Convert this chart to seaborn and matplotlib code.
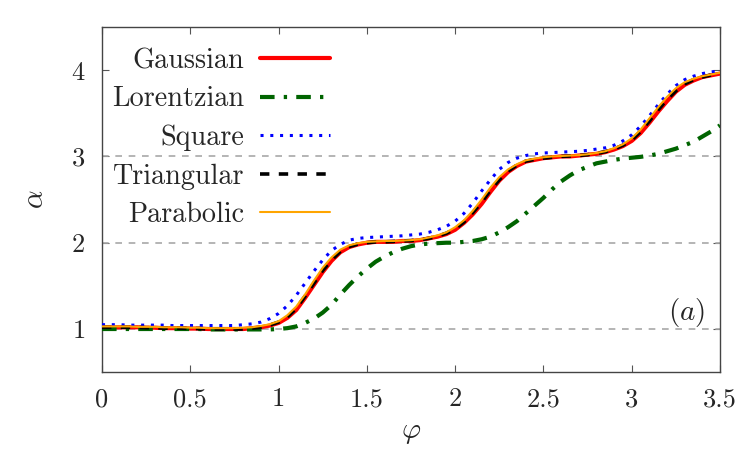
import numpy as np
import matplotlib
matplotlib.use("Agg")
import matplotlib.pyplot as plt
import seaborn as sns

# phi grid (0 .. 3.5, step 0.05)
phi = [round(0.05 * i, 2) for i in range(71)]

gaussian = [
    1.02, 1.02, 1.02, 1.02, 1.02, 1.015, 1.015, 1.01, 1.01, 1.01,
    1.005, 1.005, 1.0, 1.0, 1.0, 1.0, 1.0, 1.01, 1.02, 1.04,
    1.07, 1.13, 1.22, 1.36, 1.51, 1.66, 1.79, 1.89, 1.95, 1.98,
    2.0, 2.01, 2.01, 2.01, 2.02, 2.02, 2.03, 2.05, 2.07, 2.10,
    2.15, 2.23, 2.33, 2.45, 2.59, 2.72, 2.82, 2.89, 2.94, 2.96,
    2.98, 2.99, 3.0, 3.0, 3.01, 3.02, 3.03, 3.05, 3.08, 3.12,
    3.18, 3.27, 3.39, 3.52, 3.64, 3.75, 3.83, 3.88, 3.92, 3.94,
    3.96,
]

lorentzian = [
    1.0, 1.0, 1.0, 1.0, 1.0, 1.0, 1.0, 1.0, 1.0, 1.0,
    1.0, 1.0, 0.995, 0.995, 0.995, 0.995, 0.995, 0.995, 0.995, 0.995,
    1.0, 1.01, 1.03, 1.07, 1.12, 1.19, 1.28, 1.40, 1.51, 1.61,
    1.70, 1.78, 1.84, 1.89, 1.93, 1.96, 1.98, 1.99, 1.995, 2.0,
    2.0, 2.01, 2.02, 2.04, 2.07, 2.12, 2.18, 2.25, 2.34, 2.43,
    2.52, 2.62, 2.71, 2.78, 2.84, 2.88, 2.92, 2.94, 2.96, 2.975,
    2.985, 2.995, 3.01, 3.03, 3.06, 3.09, 3.13, 3.17, 3.23, 3.29,
    3.36,
]

square = [
    1.05, 1.05, 1.05, 1.045, 1.045, 1.045, 1.045, 1.045, 1.04, 1.04,
    1.04, 1.04, 1.04, 1.04, 1.04, 1.04, 1.05, 1.06, 1.08, 1.12,
    1.18, 1.27, 1.39, 1.53, 1.67, 1.80, 1.91, 1.98, 2.03, 2.05,
    2.06, 2.065, 2.07, 2.075, 2.08, 2.09, 2.10, 2.12, 2.15, 2.19,
    2.25, 2.34, 2.46, 2.60, 2.73, 2.85, 2.93, 2.98, 3.01, 3.03,
    3.04, 3.045, 3.05, 3.055, 3.06, 3.07, 3.085, 3.10, 3.13, 3.18,
    3.25, 3.35, 3.47, 3.60, 3.72, 3.82, 3.89, 3.93, 3.96, 3.98,
    3.99,
]

triangular = [
    1.02, 1.02, 1.02, 1.02, 1.02, 1.015, 1.015, 1.01, 1.01, 1.01,
    1.005, 1.005, 1.0, 1.0, 1.0, 1.0, 1.0, 1.01, 1.02, 1.045,
    1.08, 1.14, 1.24, 1.38, 1.53, 1.68, 1.80, 1.90, 1.955, 1.985,
    2.0, 2.01, 2.01, 2.015, 2.02, 2.025, 2.035, 2.05, 2.075, 2.11,
    2.16, 2.24, 2.35, 2.47, 2.61, 2.73, 2.83, 2.90, 2.945, 2.965,
    2.98, 2.99, 3.0, 3.005, 3.01, 3.02, 3.035, 3.055, 3.085, 3.13,
    3.19, 3.29, 3.41, 3.54, 3.66, 3.76, 3.84, 3.89, 3.92, 3.945,
    3.96,
]

parabolic = [
    1.03, 1.03, 1.03, 1.03, 1.025, 1.025, 1.025, 1.02, 1.02, 1.02,
    1.015, 1.015, 1.01, 1.01, 1.01, 1.01, 1.015, 1.02, 1.035, 1.055,
    1.09, 1.16, 1.26, 1.40, 1.56, 1.71, 1.83, 1.92, 1.97, 1.995,
    2.01, 2.015, 2.02, 2.02, 2.025, 2.03, 2.04, 2.06, 2.085, 2.12,
    2.18, 2.26, 2.37, 2.50, 2.64, 2.76, 2.85, 2.91, 2.955, 2.975,
    2.99, 3.0, 3.005, 3.01, 3.015, 3.025, 3.04, 3.06, 3.095, 3.14,
    3.21, 3.31, 3.44, 3.57, 3.69, 3.79, 3.86, 3.90, 3.93, 3.95,
    3.97,
]

x_ticks = [0, 0.5, 1, 1.5, 2, 2.5, 3, 3.5]
x_tick_labels = ["0", "0.5", "1", "1.5", "2", "2.5", "3", "3.5"]
y_ticks = [1, 2, 3, 4]
ref_levels = [1, 2, 3]

sns.set_style("ticks")
plt.rcParams["font.family"] = ["cmr10", "DejaVu Serif"]
plt.rcParams["mathtext.fontset"] = "cm"
plt.rcParams["axes.formatter.use_mathtext"] = True

fig = plt.figure(figsize=(7.5, 4.5), dpi=100)
ax = fig.add_axes([0.136, 0.173, 0.824, 0.767])

for lev in ref_levels:
    ax.axhline(lev, color="#a8a8a8", lw=1.2, linestyle=(0, (4, 4)), zorder=1)

sns.lineplot(x=phi, y=gaussian, ax=ax, color="#ff0000", lw=3.0,
             label="Gaussian", zorder=3)
sns.lineplot(x=phi, y=lorentzian, ax=ax, color="#006400", lw=3.0,
             linestyle=(0, (3.5, 2.2, 0.8, 2.2)), label="Lorentzian", zorder=3)
sns.lineplot(x=phi, y=square, ax=ax, color="#0000ff", lw=2.2,
             linestyle=(0, (1.0, 2.2)), label="Square", zorder=3)
sns.lineplot(x=phi, y=triangular, ax=ax, color="black", lw=2.6,
             linestyle=(0, (2.6, 2.6)), label="Triangular", zorder=4)
sns.lineplot(x=phi, y=parabolic, ax=ax, color="#ffa500", lw=1.5,
             label="Parabolic", zorder=5)

ax.set_xlim(0, 3.5)
ax.set_ylim(0.5, 4.5)
ax.set_xticks(x_ticks)
ax.set_xticklabels(x_tick_labels)
ax.set_yticks(y_ticks)
ax.tick_params(direction="in", top=True, right=True, length=5, width=0.8,
               color="#555555", labelsize=19)
ax.tick_params(axis="x", pad=11)
ax.tick_params(axis="y", pad=12)
for s in ax.spines.values():
    s.set_color("#444444")
    s.set_linewidth(1.0)

ax.set_xlabel(r"$\varphi$", fontsize=21, labelpad=6)
ax.set_ylabel(r"$\alpha$", fontsize=21, labelpad=16)

ax.text(0.976, 0.172, r"$(a)$", transform=ax.transAxes, ha="right",
        va="center", fontsize=21)

leg = ax.legend(loc="upper left", bbox_to_anchor=(0.016, 0.94),
                frameon=False, markerfirst=False,
                fontsize=20.3, handlelength=2.5, handletextpad=0.55,
                labelspacing=0.43, borderaxespad=0.0, borderpad=0.0)

fig.savefig("out.png", dpi=100)
